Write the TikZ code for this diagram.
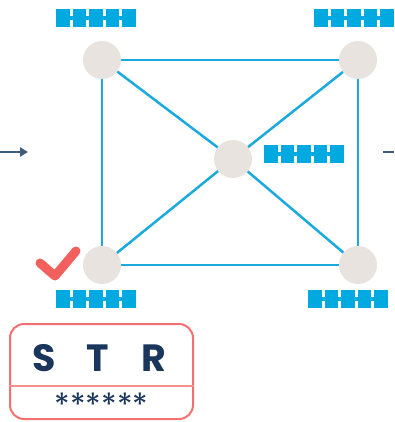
\documentclass[tikz,border=0pt]{standalone}
\usepackage{fontspec}
\newfontfamily\keyfont{Poppins}
\usetikzlibrary{arrows.meta}

\definecolor{hubgray}{HTML}{E8E3DF}
\definecolor{linkblue}{HTML}{1AAADE}
\definecolor{regblue}{HTML}{00A9E0}
\definecolor{slate}{HTML}{3E5C7B}
\definecolor{coral}{HTML}{F2605E}
\definecolor{navy}{HTML}{1B365D}

\tikzstyle{hub}=[circle, fill=hubgray, minimum size=38pt, inner sep=0pt]
\tikzstyle{link}=[draw=linkblue, line width=2.5pt]
\tikzstyle{register}=[minimum width=80pt, minimum height=18pt, inner sep=0pt,
  path picture={
    \foreach \k in {0,...,4}
      \fill[regblue] ([xshift=\k*16.6pt]path picture bounding box.south west) rectangle ++(13.6pt,18pt);
    \fill[regblue] ([yshift=-2pt]path picture bounding box.west) rectangle ([yshift=2pt]path picture bounding box.east);
  }]
\tikzstyle{flow}=[-{Triangle[length=8pt,width=9pt]}, draw=slate, fill=slate, line width=2pt]
\tikzstyle{letter}=[text=navy, inner sep=0pt, font=\keyfont\bfseries\fontsize{38}{38}\selectfont]

\begin{document}
\begin{tikzpicture}[x=1pt, y=-1pt]
  \useasboundingbox (0,0) rectangle (394,422);

  % hubs of the mesh
  \node (tl) at (102, 60) [hub] {};
  \node (tr) at (358, 60) [hub] {};
  \node (mid) at (233, 159) [hub] {};
  \node (bl) at (102, 265) [hub] {};
  \node (br) at (358, 265) [hub] {};

  \draw[link] (tl) -- (tr);
  \draw[link] (tr) -- (br);
  \draw[link] (br) -- (bl);
  \draw[link] (bl) -- (tl);
  \draw[link] (tl) -- (mid);
  \draw[link] (mid) -- (br);
  \draw[link] (tr) -- (mid);
  \draw[link] (mid) -- (bl);

  % registers
  \node (regtl) at (96, 18) [register] {};
  \node (regtr) at (354, 18) [register] {};
  \node (regmid) at (304, 154) [register] {};
  \node (regbl) at (96, 299) [register] {};
  \node (regbr) at (348, 299) [register] {};

  % in and out
  \coordinate (inlet) at (0, 152);
  \coordinate (intip) at (28, 152);
  \coordinate (outlet) at (383, 152);
  \coordinate (outend) at (394, 152);
  \draw[flow] (inlet) -- (intip);
  \draw[draw=slate, line width=2pt] (outlet) -- (outend);

  % tick
  \coordinate (ticka) at (40, 263);
  \coordinate (tickb) at (55, 276);
  \coordinate (tickc) at (76, 251);
  \draw[coral, line width=9pt, line cap=round, line join=round] (ticka) -- (tickb) -- (tickc);

  % key card
  \node (card) at (101.5, 371.5) [draw=coral!90, line width=2pt, rounded corners=14pt,
    minimum width=183pt, minimum height=95pt, inner sep=0pt] {};
  \draw[coral!70, line width=1.3pt] (card.west |- 0,386) -- (card.east |- 0,386);
  \node (ks) at (44, 358) [letter] {S};
  \node (kt) at (98, 358) [letter] {T};
  \node (kr) at (154, 358) [letter] {R};
  \node (kpin) at (101.5, 416) [anchor=base, text depth=0pt, text=navy, inner sep=0pt,
    font=\keyfont\fontsize{32}{32}\selectfont] {******};
\end{tikzpicture}
\end{document}
